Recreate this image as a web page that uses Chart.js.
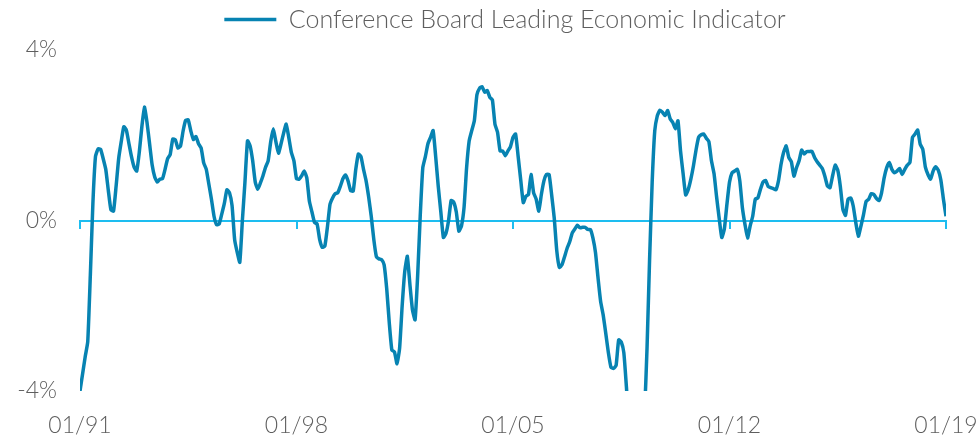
<!DOCTYPE html>
<html>
<head>
<meta charset="utf-8">
<script src="https://cdn.jsdelivr.net/npm/chart.js@4/dist/chart.umd.min.js"></script>
<style>
  html, body { margin: 0; padding: 0; background: #fff; }
  #wrap { width: 980px; height: 436px; position: relative; }
</style>
</head>
<body>
<div id="wrap"><canvas id="leiChart"></canvas></div>
<script>
  // monthly yoy change, 01/1991 .. 01/2019
  const leiValues = [
    -4.00, -3.60, -3.20, -2.85, -1.30, 0.40, 1.50, 1.68, 1.67, 1.45, 1.20, 0.70,
    0.25, 0.22, 0.80, 1.45, 1.85, 2.20, 2.12, 1.80, 1.49, 1.25, 1.16, 1.60,
    2.20, 2.66, 2.30, 1.80, 1.30, 1.02, 0.90, 0.97, 0.98, 1.20, 1.45, 1.55,
    1.91, 1.89, 1.70, 1.75, 2.10, 2.35, 2.36, 2.10, 1.90, 1.97, 1.80, 1.70,
    1.35, 1.20, 0.85, 0.50, 0.10, -0.10, -0.08, 0.15, 0.40, 0.72, 0.65, 0.35,
    -0.45, -0.75, -0.98, 0.00, 0.90, 1.87, 1.75, 1.40, 0.90, 0.73, 0.88, 1.05,
    1.25, 1.40, 1.85, 2.15, 1.85, 1.58, 1.80, 2.05, 2.26, 1.95, 1.60, 1.40,
    0.98, 0.97, 1.05, 1.16, 1.00, 0.45, 0.20, -0.05, -0.08, -0.45, -0.63, -0.60,
    -0.15, 0.38, 0.53, 0.63, 0.65, 0.80, 0.98, 1.07, 0.93, 0.70, 0.69, 1.20,
    1.56, 1.50, 1.20, 0.93, 0.55, 0.10, -0.45, -0.85, -0.90, -0.92, -1.04, -1.60,
    -2.40, -3.04, -3.08, -3.36, -3.00, -2.00, -1.20, -0.84, -1.50, -2.10, -2.33, -1.30,
    0.10, 1.24, 1.50, 1.80, 1.95, 2.11, 1.50, 0.80, 0.20, -0.40, -0.30, 0.00,
    0.47, 0.43, 0.20, -0.25, -0.13, 0.30, 1.24, 1.87, 2.11, 2.34, 2.95, 3.10,
    3.14, 3.01, 3.05, 2.89, 2.83, 2.26, 2.07, 1.63, 1.63, 1.52, 1.63, 1.73,
    1.95, 2.03, 1.50, 0.95, 0.42, 0.57, 0.61, 1.08, 0.65, 0.50, 0.22, 0.61,
    0.93, 1.08, 1.08, 0.60, 0.06, -0.72, -1.10, -1.04, -0.85, -0.65, -0.50, -0.29,
    -0.20, -0.11, -0.17, -0.16, -0.16, -0.21, -0.21, -0.41, -0.75, -1.35, -1.90, -2.22,
    -2.65, -3.10, -3.44, -3.47, -3.40, -2.80, -2.85, -3.10, -3.90, -4.80, -5.60, -6.20,
    -6.60, -6.30, -5.60, -4.60, -3.00, -0.90, 0.90, 2.10, 2.46, 2.59, 2.54, 2.46,
    2.58, 2.38, 2.30, 2.15, 2.34, 1.63, 1.10, 0.60, 0.73, 0.97, 1.28, 1.65,
    1.95, 2.01, 2.03, 1.93, 1.85, 1.40, 1.10, 0.55, 0.05, -0.40, -0.20, 0.38,
    0.90, 1.12, 1.16, 1.20, 0.93, 0.30, -0.09, -0.41, -0.13, 0.10, 0.50, 0.53,
    0.73, 0.90, 0.94, 0.80, 0.77, 0.75, 0.72, 0.93, 1.32, 1.60, 1.75, 1.48,
    1.38, 1.04, 1.24, 1.40, 1.65, 1.56, 1.62, 1.62, 1.62, 1.48, 1.38, 1.30,
    1.22, 1.04, 0.81, 0.77, 1.05, 1.30, 1.18, 0.80, 0.26, 0.12, 0.50, 0.53,
    0.34, -0.05, -0.37, -0.13, 0.14, 0.45, 0.50, 0.63, 0.61, 0.52, 0.47, 0.65,
    1.00, 1.24, 1.36, 1.20, 1.12, 1.16, 1.22, 1.08, 1.20, 1.30, 1.36, 1.95,
    2.03, 2.12, 1.79, 1.67, 1.25, 1.08, 0.97, 1.16, 1.26, 1.18, 0.95, 0.50,
    0.10
  ];
  const xTickLabels = ["01/91", "01/98", "01/05", "01/12", "01/19"];
  const yTicks = [-4, 0, 4];
  const seriesName = "Conference Board Leading Economic Indicator";

  const lineColor = "#0783b2";
  const zeroColor = "#1dbdf0";
  const textColor = "#5e5e5e";
  const font = { family: "Lato, 'Open Sans', sans-serif", size: 23, weight: "300" };
  const monthStep = 84; // 7 years between labels

  const monthIndex = leiValues.map((_, i) => i);

  // extra room under the legend, and nudge it right like the original
  const legendTweak = {
    id: "legendTweak",
    beforeInit(chart) {
      const legend = chart.legend;
      const fit = legend.fit;
      const draw = legend.draw;
      legend.fit = function () {
        fit.call(this);
        this.height += 8;
      };
      legend.draw = function () {
        this.ctx.save();
        this.ctx.translate(32, 0);
        draw.call(this);
        this.ctx.restore();
      };
    }
  };

  new Chart(document.getElementById("leiChart"), {
    type: "line",
    data: {
      labels: monthIndex,
      datasets: [{
        label: seriesName,
        data: leiValues,
        borderColor: lineColor,
        backgroundColor: lineColor,
        borderWidth: 3.5,
        pointRadius: 0,
        tension: 0.15
      }]
    },
    options: {
      responsive: true,
      maintainAspectRatio: false,
      animation: false,
      layout: { padding: { top: 0, right: 34, bottom: 0, left: 0 } },
      plugins: {
        tooltip: { enabled: false },
        legend: {
          display: true,
          labels: {
            usePointStyle: true,
            pointStyle: "line",
            pointStyleWidth: 52,
            padding: 7,
            color: textColor,
            font: { ...font, size: 25 }
          }
        }
      },
      scales: {
        x: {
          type: "linear",
          min: 0,
          max: leiValues.length - 1,
          grid: { display: false },
          border: { display: false },
          ticks: {
            stepSize: monthStep,
            color: textColor,
            font: font,
            padding: 13,
            maxRotation: 0,
            callback: v => xTickLabels[v / monthStep] ?? ""
          },
          afterFit: s => { s.height = 45; s.paddingLeft = 0; s.paddingRight = 0; }
        },
        zero: {
          type: "linear",
          axis: "x",
          position: { y: 0 },
          min: 0,
          max: leiValues.length - 1,
          grid: { drawOnChartArea: false, drawTicks: true, tickLength: 7, color: zeroColor, lineWidth: 2 },
          border: { display: true, color: zeroColor, width: 2 },
          ticks: { display: false, stepSize: monthStep }
        },
        y: {
          min: yTicks[0],
          max: yTicks[yTicks.length - 1],
          grid: { display: false },
          border: { display: false },
          afterBuildTicks: s => { s.ticks = yTicks.map(v => ({ value: v })); },
          ticks: {
            color: textColor,
            font: font,
            padding: 15,
            callback: v => v + "%"
          },
          afterFit: s => { s.width = 80; }
        }
      }
    },
    plugins: [legendTweak]
  });
</script>
</body>
</html>
